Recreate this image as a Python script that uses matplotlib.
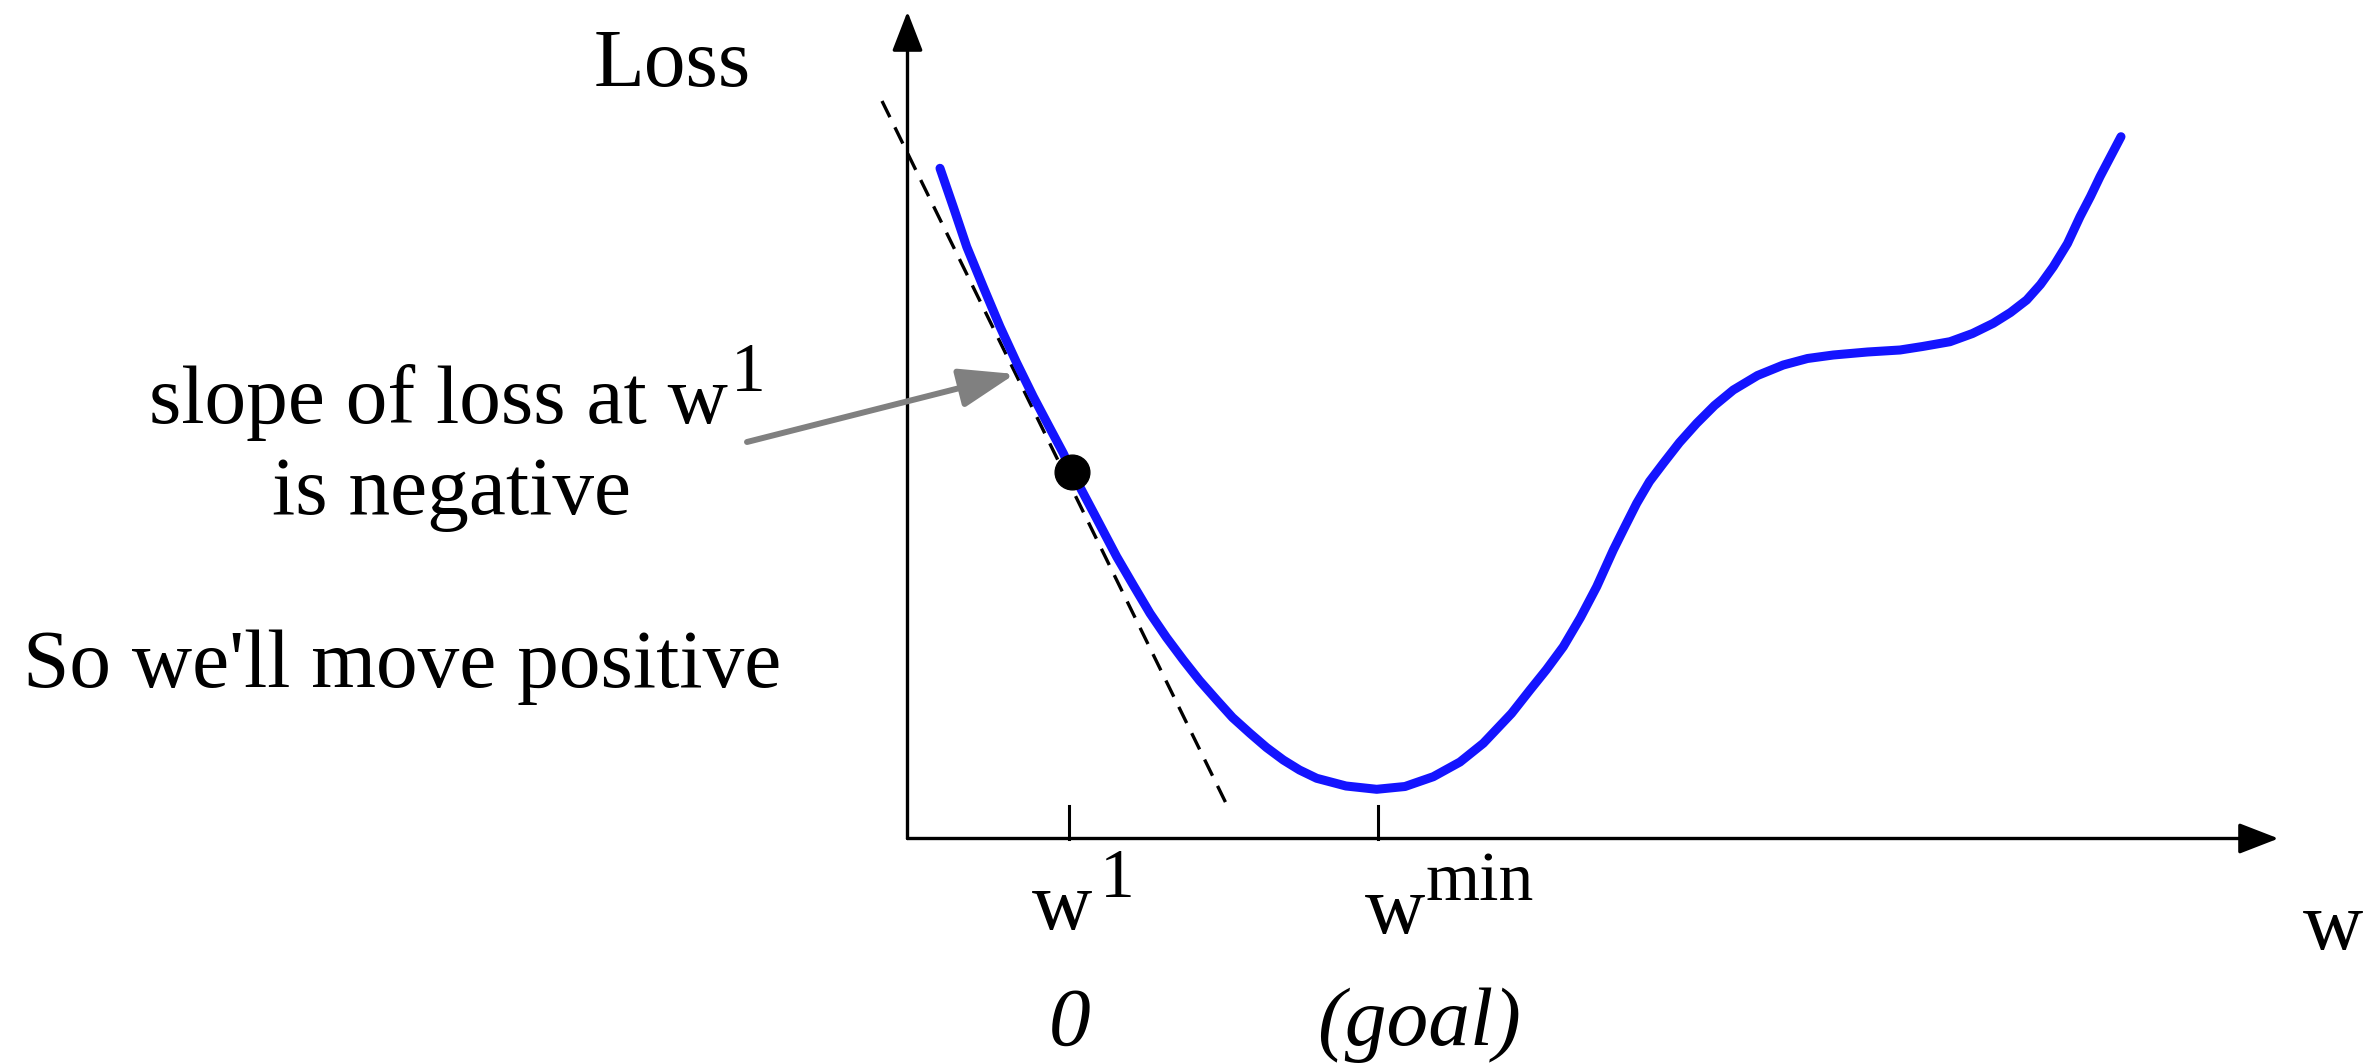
import numpy as np
import matplotlib.pyplot as plt
from matplotlib.patches import FancyArrowPatch

plt.rcParams['font.family'] = ['Liberation Serif', 'DejaVu Serif']

# loss curve (w, loss)
w_vals = [0.325, 0.46, 0.592, 0.76, 0.925, 1.09, 1.258, 1.41, 1.558, 1.645,
          1.87, 2.092, 2.26, 2.425, 2.59, 2.758, 2.92, 3.092, 3.25, 3.425,
          3.59, 3.758, 3.92, 4.092, 4.385, 4.692, 4.975, 5.258, 5.525, 5.758,
          6.04, 6.225, 6.39, 6.558, 6.73, 6.892, 7.058, 7.175, 7.292, 7.42,
          7.558, 7.72, 7.892, 8.07, 8.258, 8.5, 8.758, 9.0, 9.258, 9.6,
          9.925, 10.15, 10.425, 10.65, 10.858, 11.03, 11.192, 11.33, 11.458, 11.6,
          11.725, 11.83, 11.925, 12.135]
loss_vals = [6.702, 6.31, 5.918, 5.51, 5.118, 4.76, 4.418, 4.13, 3.852, 3.665,
             3.24, 2.818, 2.53, 2.252, 2.01, 1.785, 1.58, 1.385, 1.21, 1.052,
             0.91, 0.785, 0.685, 0.602, 0.525, 0.492, 0.52, 0.618, 0.765, 0.952,
             1.25, 1.485, 1.69, 1.918, 2.21, 2.518, 2.885, 3.12, 3.352, 3.57,
             3.752, 3.96, 4.152, 4.33, 4.485, 4.63, 4.735, 4.80, 4.835, 4.865,
             4.885, 4.92, 4.968, 5.05, 5.152, 5.26, 5.385, 5.54, 5.718, 5.95,
             6.218, 6.42, 6.618, 7.018]

# current point w1 and the minimum
w1 = 1.61
w_min = 4.70
point_w, point_loss = 1.645, 3.665

# tangent (dashed) at w1
tangent_w = [-0.255, 3.202]
tangent_loss = [7.375, 0.318]

# axis extents
w_axis_end = 13.71
loss_axis_end = 8.27

fs = 60
fs_sup = 50

fig = plt.figure(figsize=(23.66, 10.63), dpi=100)
ax = fig.add_axes([0, 0, 1, 1])
ax.set_xlim(-9.075, 14.585)
ax.set_ylim(-2.245, 8.385)
ax.axis('off')

# axes with arrow heads
for end in [(w_axis_end, 0), (0, loss_axis_end)]:
    ax.add_patch(FancyArrowPatch((0, 0), end, arrowstyle='-|>,head_length=2.45,head_width=0.95',
                                 mutation_scale=10, lw=2.4, color='black',
                                 shrinkA=0, shrinkB=0, zorder=2))

# ticks
for t in [w1, w_min]:
    ax.plot([t, t], [0, 0.325], color='black', lw=2.2)

# tangent line
ax.plot(tangent_w, tangent_loss, color='black', lw=2.4, ls=(0, (5.4, 3.4)), zorder=3)

# loss curve
ax.plot(w_vals, loss_vals, color='#1414ff', lw=6.5, solid_capstyle='round',
        solid_joinstyle='round', zorder=4)

# current point
ax.plot([point_w], [point_loss], 'o', color='black', ms=25, zorder=5)

# gray annotation arrow
ax.add_patch(FancyArrowPatch((-1.605, 3.965), (1.075, 4.645),
                             arrowstyle='-|>,head_length=3.4,head_width=1.2',
                             mutation_scale=10, lw=4.3, color='#808080',
                             shrinkA=0, shrinkB=0, zorder=6))


def label_with_sup(x, y, base, sup, dx=2, dy=25.5, **kw):
    t = ax.text(x, y, base, fontsize=fs, ha='left', va='baseline', **kw)
    ax.annotate(sup, xy=(1, 0), xycoords=t, xytext=(dx, dy), textcoords='offset points',
                fontsize=fs_sup, ha='left', va='bottom')
    return t


ax.text(-3.142, 7.525, 'Loss', fontsize=fs, ha='left', va='baseline')
label_with_sup(-7.582, 4.152, 'slope of loss at w', '1')
ax.text(-6.352, 3.245, 'is negative', fontsize=fs, ha='left', va='baseline')
ax.text(-8.849, 1.519, "So we'll move positive", fontsize=fs, ha='left', va='baseline')

label_with_sup(1.242, -0.908, 'w', '1', dx=6)
label_with_sup(4.575, -0.942, 'w', 'min', dx=0)
ax.text(1.625, -2.065, '0', fontsize=fs, style='italic', ha='center', va='baseline')
ax.text(4.092, -2.065, '(goal)', fontsize=fs, style='italic', ha='left', va='baseline')
ax.text(13.958, -1.108, 'w', fontsize=fs, ha='left', va='baseline')

fig.savefig('out.png', dpi=100)
